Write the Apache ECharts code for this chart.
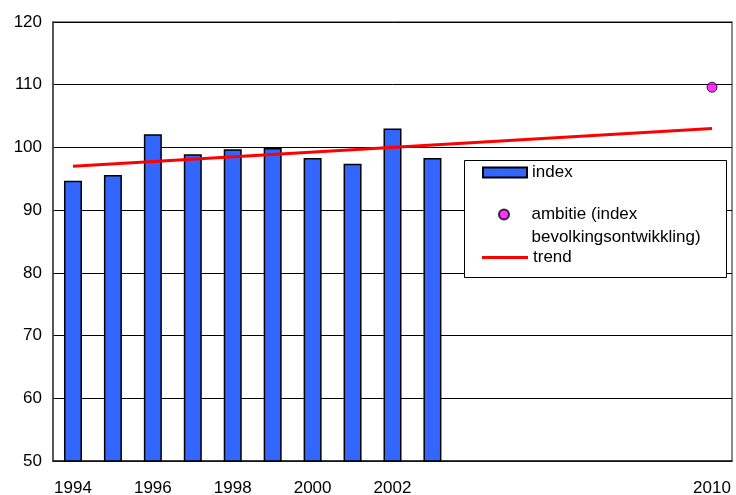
<!DOCTYPE html>
<html>
<head>
<meta charset="utf-8">
<script src="https://cdn.jsdelivr.net/npm/echarts@6/dist/echarts.min.js"></script>
<style>
  html, body { margin: 0; padding: 0; background: #fff; }
  #main { width: 736px; height: 495px; }
</style>
</head>
<body>
<div id="main"></div>
<script>
// categorieen (jaren)
var years = ['1994', '1995', '1996', '1997', '1998', '1999', '2000', '2001', '2002',
  '2003', '2004', '2005', '2006', '2007', '2008', '2009', '2010'];
// zichtbare tick labels
var shownYears = ['1994', '1996', '1998', '2000', '2002', '2010'];
// index waarden
var indexVals = [94.7, 95.6, 102.1, 98.9, 99.7, 99.9, 98.3, 97.4, 103.0, 98.3,
  null, null, null, null, null, null, null];
// ambitie (index bevolkingsontwikkling)
var ambitieVals = [null, null, null, null, null, null, null, null, null, null,
  null, null, null, null, null, null, 109.6];
// trend (begin- en eindpunt)
var trendVals = [97.0, null, null, null, null, null, null, null, null, null,
  null, null, null, null, null, null, 103.0];
var yTicks = { min: 50, max: 120, step: 10 };

var chart = echarts.init(document.getElementById('main'));
var font = 'Liberation Sans, Arial, sans-serif';
var ambName = 'ambitie (index\nbevolkingsontwikkling)';

var option = {
  animation: false,
  backgroundColor: '#fff',
  textStyle: { fontFamily: font },
  grid: {
    left: 53, top: 22, right: 4, bottom: 34,
    outerBoundsMode: 'none',
    containLabel: false,
    show: true,
    borderColor: '#666',
    borderWidth: 1.5,
    backgroundColor: '#fff'
  },
  xAxis: {
    type: 'category',
    data: years,
    axisTick: { show: false },
    axisLine: { lineStyle: { color: '#222', width: 1.5 } },
    axisLabel: {
      color: '#000',
      fontSize: 17,
      fontFamily: font,
      margin: 19,
      interval: function(idx, val) {
        return shownYears.indexOf(val) >= 0;
      }
    }
  },
  yAxis: {
    type: 'value',
    min: yTicks.min,
    max: yTicks.max,
    interval: yTicks.step,
    axisTick: { show: false },
    axisLine: { show: true, lineStyle: { color: '#444', width: 1.5 } },
    axisLabel: { color: '#000', fontSize: 17, fontFamily: font, margin: 11 },
    splitLine: { lineStyle: { color: '#000', width: 1 } }
  },
  legend: [{
    data: ['index'],
    orient: 'vertical',
    left: 482, top: 164,
    padding: 0,
    icon: 'rect',
    itemWidth: 44, itemHeight: 10,
    textStyle: { color: '#000', fontSize: 17, fontFamily: font }
  }, {
    data: [ambName],
    orient: 'vertical',
    left: 498, top: 180,
    padding: 0,
    icon: 'circle',
    itemWidth: 45, itemHeight: 10,
    formatter: function(name) {
      return '\n' + name;
    },
    textStyle: { color: '#000', fontSize: 17, fontFamily: font, lineHeight: 23 }
  }, {
    data: ['trend'],
    orient: 'vertical',
    left: 482, top: 249,
    padding: 0,
    itemWidth: 46, itemHeight: 3,
    icon: 'rect',
    textStyle: { color: '#000', fontSize: 17, fontFamily: font }
  }],
  graphic: [{
    type: 'rect',
    left: 464, top: 160,
    shape: { width: 262, height: 117 },
    style: { fill: '#fff', stroke: '#000', lineWidth: 1 },
    z: 3
  }],
  series: [{
    name: 'index',
    type: 'bar',
    data: indexVals,
    barWidth: 18,
    itemStyle: { color: '#3366ff', borderColor: '#000', borderWidth: 1.5 },
    z: 2
  }, {
    name: 'trend',
    type: 'line',
    data: trendVals,
    connectNulls: true,
    showSymbol: false,
    symbol: 'none',
    lineStyle: { color: '#ff0000', width: 3 },
    itemStyle: { color: '#ff0000' },
    z: 4
  }, {
    name: ambName,
    type: 'scatter',
    data: ambitieVals,
    symbol: 'circle',
    symbolSize: 10,
    itemStyle: { color: '#ff00ff', borderColor: '#000', borderWidth: 1 },
    z: 5
  }]
};
chart.setOption(option);
</script>
</body>
</html>
